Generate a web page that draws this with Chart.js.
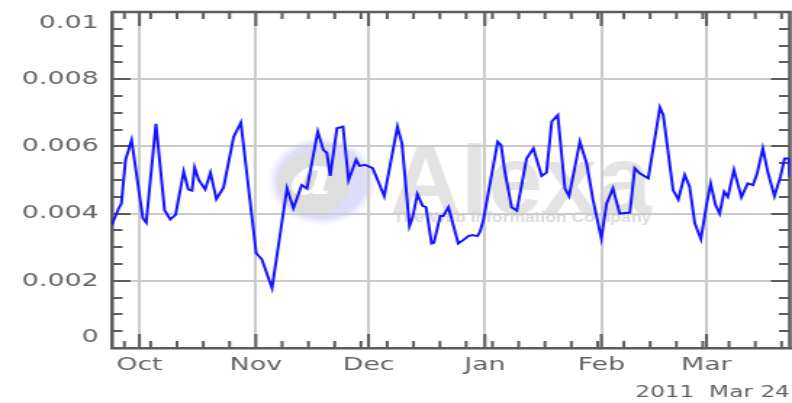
<!DOCTYPE html>
<html>
<head>
  <meta charset="utf-8">
  <style>
    html, body { margin: 0; padding: 0; background: #fff; }
  </style>
</head>
<body>
  <!-- the original chart is a stretched bitmap, so the canvas is drawn narrow and widened by css -->
  <canvas id="myChart" width="546" height="403" style="width:792px;height:403px"></canvas>

  <script src="https://cdn.jsdelivr.net/npm/chart.js@4/dist/chart.umd.min.js"></script>
  <script>
    // x = days since 1 Oct 2010, y = daily reach
    var days = [-7.4, -5.5, -4.8, -3.7, -2.1, 0.9, 1.8, 4.4, 6.7, 8.2, 9.6, 11.8, 13.0, 14.0, 14.7, 15.8, 17.5, 18.9, 20.5, 22.4,
      25.1, 27.0, 31.1, 32.6, 35.3, 39.3, 41.0, 43.2, 44.6, 47.5, 49.0, 49.9, 50.8, 52.6, 54.2, 55.7, 57.7, 58.6, 60.1, 62.1,
      65.2, 68.7, 69.9, 71.9, 72.8, 74.0, 75.4, 76.3, 77.8, 78.4, 80.1, 80.9, 82.3, 84.9, 86.2, 87.6, 88.7, 90.0, 90.7, 91.6,
      95.4, 96.3, 97.3, 99.1, 100.5, 103.1, 104.9, 107.1, 108.4, 109.8, 111.4, 113.3, 114.4, 117.3, 119.1, 120.8, 123.0, 124.4,
      126.1, 127.9, 130.6, 131.9, 133.2, 135.5, 138.6, 139.5, 142.1, 143.5, 145.2, 146.5, 147.9, 149.5, 151.0, 152.1, 153.4,
      154.5, 155.7, 156.7, 158.3, 160.3, 162.0, 163.4, 164.5, 166.0, 167.4, 169.1, 170.7, 171.8, 173.0, 173.2];
    var reach = [0.00366, 0.00416, 0.0043, 0.0056, 0.00619, 0.00386, 0.00373, 0.00667, 0.0041, 0.00383, 0.00396, 0.00525, 0.00472, 0.00468, 0.00537, 0.005, 0.00472, 0.00522, 0.00443, 0.00478,
      0.00629, 0.00671, 0.00282, 0.00264, 0.00178, 0.00475, 0.00416, 0.00485, 0.00475, 0.00644, 0.00589, 0.00581, 0.00512, 0.00654, 0.00659, 0.005, 0.0056, 0.00542, 0.00545, 0.00535,
      0.00452, 0.00659, 0.00609, 0.00363, 0.00391, 0.00458, 0.00423, 0.00419, 0.00311, 0.00313, 0.00393, 0.00393, 0.00419, 0.00311, 0.00321, 0.00333, 0.00336, 0.00333, 0.00346, 0.00381,
      0.00614, 0.00604, 0.00525, 0.00419, 0.00409, 0.00564, 0.00594, 0.00512, 0.00522, 0.00674, 0.00693, 0.00475, 0.00452, 0.00614, 0.00549, 0.0044, 0.00326, 0.0043,
      0.00475, 0.004, 0.00403, 0.00535, 0.0052, 0.00505, 0.00716, 0.00693, 0.0047, 0.00442, 0.00515, 0.0048, 0.00371, 0.00324, 0.00426, 0.0049, 0.00426,
      0.004, 0.00465, 0.0045, 0.0053, 0.00449, 0.0049, 0.00485, 0.0052, 0.00594, 0.0052, 0.00452, 0.0051, 0.00564, 0.00564, 0.0051];

    var monthDays = [0, 31, 61, 92, 123, 151];
    var monthLabels = ['Oct', 'Nov', 'Dec', 'Jan', 'Feb', 'Mar'];
    var yTicks = [0, 0.002, 0.004, 0.006, 0.008, 0.01];
    var yLabels = ['0', '0.002', '0.004', '0.006', '0.008', '0.01'];
    var dateStamp = '2011  Mar 24';

    // minor marks on the frame: Mondays, and every 0.0005
    var weekDays = [];
    for (var d = -4; d <= 173; d += 7) weekDays.push(d);
    var yMinor = [];
    for (var k = 1; k < 20; k++) yMinor.push(k * 0.0005);

    var frameColor = '#5c5c5c';
    var textColor = '#646464';

    function fitText(c, text, x, y, width) {
      var w = c.measureText(text).width;
      c.save();
      c.translate(x, y);
      c.scale(width / w, 1);
      c.fillText(text, 0, 0);
      c.restore();
    }

    var watermark = {
      id: 'watermark',
      beforeDraw: function(chart) {
        var c = chart.ctx;
        c.save();
        // lavender halo
        c.save();
        c.translate(222, 181);
        c.scale(38 / 45, 1);
        var g = c.createRadialGradient(0, 0, 5, 0, 0, 45);
        g.addColorStop(0, '#dcdcf6');
        g.addColorStop(0.8, '#dedefa');
        g.addColorStop(1, 'rgba(235,235,255,0)');
        c.fillStyle = g;
        c.beginPath();
        c.arc(0, 0, 45, 0, Math.PI * 2);
        c.fill();
        c.restore();
        // grey disc with "a"
        c.fillStyle = '#dedede';
        c.beginPath();
        c.ellipse(216, 183, 25, 31, 0, 0, Math.PI * 2);
        c.fill();
        c.fillStyle = '#ffffff';
        c.font = 'italic bold 52px "DejaVu Serif"';
        c.textBaseline = 'middle';
        c.textAlign = 'left';
        fitText(c, 'a', 200, 180, 30);
        // word mark
        c.textBaseline = 'alphabetic';
        c.fillStyle = '#e3e3e3';
        c.font = 'bold 97px "Liberation Sans"';
        fitText(c, 'Alexa', 269, 213, 180);
        c.fillStyle = '#dadada';
        c.font = 'bold 14px "Liberation Sans"';
        c.textBaseline = 'middle';
        fitText(c, 'The Web Information Company', 271, 218, 178);
        c.restore();
      }
    };

    var frame = {
      id: 'frame',
      beforeDatasetsDraw: function(chart) {
        var c = chart.ctx, a = chart.chartArea;
        var xs = chart.scales.x, ys = chart.scales.y;
        c.save();
        c.strokeStyle = frameColor;
        c.lineWidth = 2.5;
        c.beginPath();
        c.moveTo(a.left, a.top);
        c.lineTo(a.right, a.top);
        c.lineTo(a.right, a.bottom);
        c.stroke();

        c.lineWidth = 2;
        c.beginPath();
        function vmark(v, len) {
          var px = xs.getPixelForValue(v);
          if (px <= a.left || px >= a.right) return;
          c.moveTo(px, a.top); c.lineTo(px, a.top + len);
          c.moveTo(px, a.bottom); c.lineTo(px, a.bottom - len);
        }
        function hmark(v, len) {
          var py = Math.round(ys.getPixelForValue(v));
          c.moveTo(a.left, py); c.lineTo(a.left + len, py);
          c.moveTo(a.right, py); c.lineTo(a.right - len, py);
        }
        weekDays.forEach(function(v) { vmark(v, 7); });
        monthDays.forEach(function(v) { vmark(v, 14); });
        yMinor.forEach(function(v) { hmark(v, 7.5); });
        yTicks.forEach(function(v) { hmark(v, 13); });
        c.stroke();
        c.restore();
      }
    };

    var points = days.map(function(d, i) { return { x: d, y: reach[i] }; });

    var ctx = document.getElementById('myChart').getContext('2d');
    var reachChart = new Chart(ctx, {
      type: 'line',
      data: {
        datasets: [{
          data: points,
          borderColor: '#1414ff',
          borderWidth: 2,
          pointRadius: 0,
          tension: 0,
          fill: false
        }]
      },
      plugins: [watermark, frame],
      options: {
        responsive: false,
        animation: false,
        devicePixelRatio: 1,
        layout: { padding: { left: 6, right: 1.5, top: 12, bottom: 0 } },
        plugins: { legend: { display: false }, tooltip: { enabled: false } },
        scales: {
          x: {
            type: 'linear',
            min: -7.4,
            max: 173.2,
            afterBuildTicks: function(s) {
              s.ticks = monthDays.map(function(v) { return { value: v }; });
            },
            ticks: {
              callback: function(v, i) { return monthLabels[i]; },
              color: textColor,
              font: { family: 'DejaVu Sans', size: 18.5 },
              padding: 6.3,
              maxRotation: 0,
              autoSkip: false
            },
            grid: { color: '#cbcbcb', lineWidth: 2, drawTicks: false },
            border: { color: frameColor, width: 2.5 },
            title: {
              display: true,
              text: dateStamp,
              align: 'end',
              color: textColor,
              font: { family: 'DejaVu Sans', size: 16 },
              padding: { top: 0, bottom: 1 }
            }
          },
          y: {
            min: 0,
            max: 0.01,
            afterBuildTicks: function(s) {
              s.ticks = yTicks.map(function(v) { return { value: v }; });
            },
            afterFit: function(s) { s.paddingTop = 0; s.paddingBottom = 0; },
            ticks: {
              // end labels sit inside the frame
              callback: function(v, i) {
                if (i === 0) return [yLabels[i], ''];
                if (i === yTicks.length - 1) return ['', yLabels[i]];
                return yLabels[i];
              },
              color: textColor,
              font: { family: 'DejaVu Sans', size: 18.5 },
              padding: 9,
              autoSkip: false
            },
            grid: { color: '#cbcbcb', lineWidth: 2, drawTicks: false },
            border: { color: frameColor, width: 2.5 }
          }
        }
      }
    });
  </script>
</body>
</html>
